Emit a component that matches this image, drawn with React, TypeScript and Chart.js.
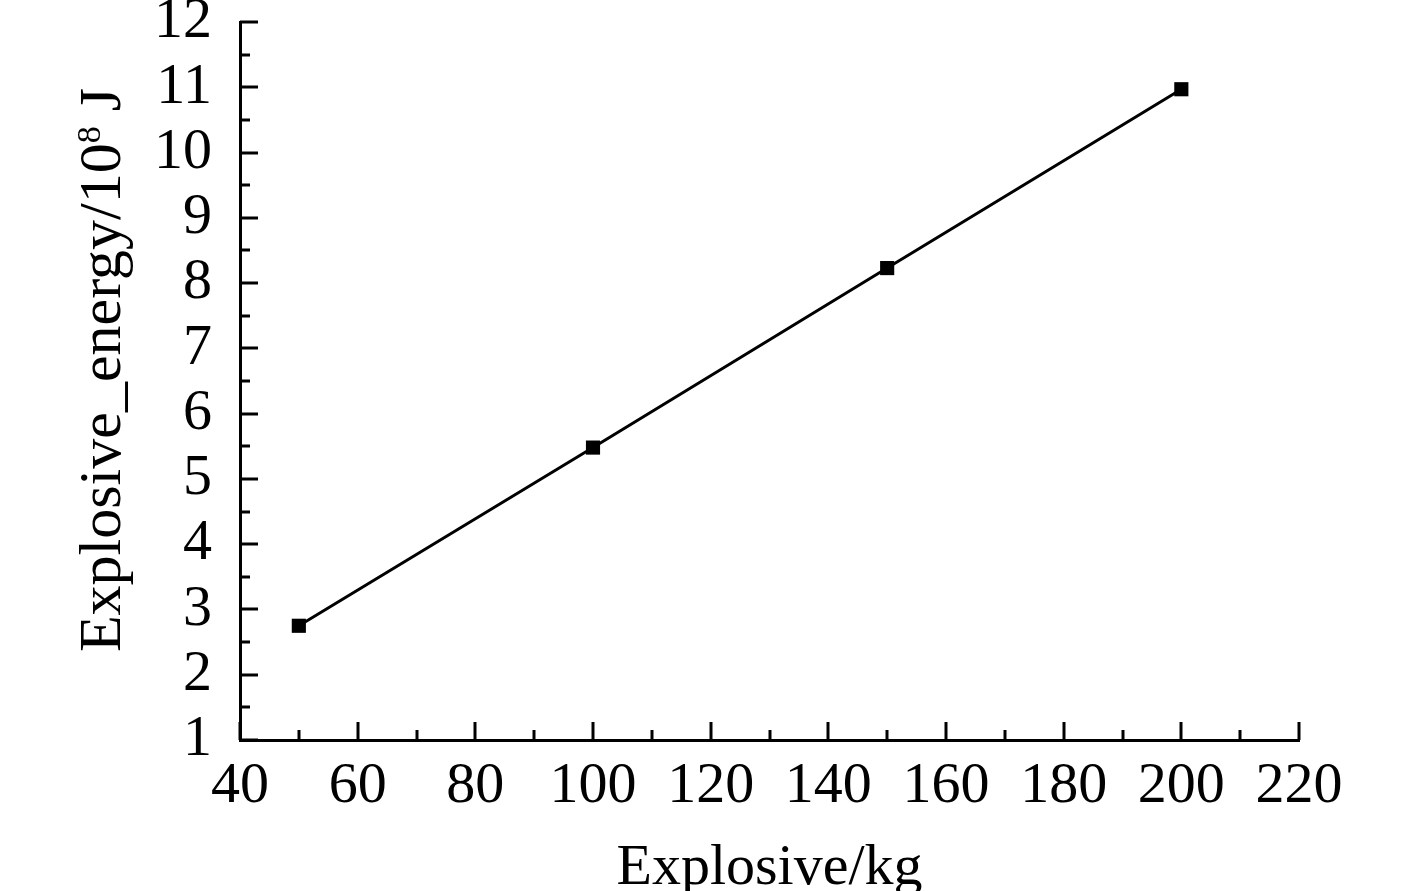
import React, { useEffect, useRef } from "react";
import { Chart, registerables } from "chart.js";

Chart.register(...registerables);

// Data
const explosiveKg = [50, 100, 150, 200];
const explosiveEnergy = [2.75, 5.48, 8.23, 10.97];

// Axis ranges / ticks
const xMin = 40;
const xMax = 220;
const xMajorStep = 20;
const xMinorStep = 10;
const yMin = 1;
const yMax = 12;
const yMajorStep = 1;
const yMinorStep = 0.5;

const xTitle = "Explosive/kg";
const yTitleMain = "Explosive_energy/10";
const yTitleSup = "8";
const yTitleTail = " J";

const FONT = '"Liberation Serif", "Times New Roman", Times, serif';

const inwardTicks = {
  id: "inwardTicks",
  afterDatasetsDraw(chart: any) {
    const { ctx, chartArea, scales } = chart;
    const xs = scales.x;
    const ys = scales.y;
    ctx.save();
    ctx.strokeStyle = "#000";
    ctx.lineWidth = 3;
    ctx.lineCap = "butt";
    for (let v = xMin; v <= xMax + 1e-9; v += xMinorStep) {
      const isMajor = Math.abs((v - xMin) % xMajorStep) < 1e-6;
      const len = isMajor ? 18 : 10;
      const px = Math.round(xs.getPixelForValue(v));
      ctx.beginPath();
      ctx.moveTo(px, chartArea.bottom);
      ctx.lineTo(px, chartArea.bottom - len);
      ctx.stroke();
    }
    for (let v = yMin; v <= yMax + 1e-9; v += yMinorStep) {
      const isMajor = Math.abs((v - yMin) % yMajorStep) < 1e-6;
      const len = isMajor ? 18 : 10;
      const py = Math.round(ys.getPixelForValue(v));
      ctx.beginPath();
      ctx.moveTo(chartArea.left, py);
      ctx.lineTo(chartArea.left + len, py);
      ctx.stroke();
    }
    ctx.restore();
  },
};

const titlesPlugin = {
  id: "titlesPlugin",
  afterDraw(chart: any) {
    const { ctx, chartArea } = chart;
    ctx.save();
    ctx.fillStyle = "#000";
    // X title
    ctx.font = `58px ${FONT}`;
    ctx.textAlign = "center";
    ctx.textBaseline = "alphabetic";
    ctx.fillText(xTitle, (chartArea.left + chartArea.right) / 2, chartArea.bottom + 144);
    ctx.restore();

    // Y title (rotated, with superscript)
    const cy = (chartArea.top + chartArea.bottom) / 2 - 11;
    const cx = 105;
    ctx.save();
    ctx.translate(cx, cy);
    ctx.rotate(-Math.PI / 2);
    ctx.fillStyle = "#000";
    ctx.textBaseline = "alphabetic";
    ctx.textAlign = "left";
    const mainFont = `60px ${FONT}`;
    const supFont = `34px ${FONT}`;
    ctx.font = mainFont;
    const w1 = ctx.measureText(yTitleMain).width;
    const w3 = ctx.measureText(yTitleTail).width;
    ctx.font = supFont;
    const w2 = ctx.measureText(yTitleSup).width;
    const total = w1 + w2 + w3;
    let x = -total / 2;
    const base = 15;
    ctx.font = mainFont;
    ctx.fillText(yTitleMain, x, base);
    x += w1;
    ctx.font = supFont;
    ctx.fillText(yTitleSup, x, base - 20);
    x += w2;
    ctx.font = mainFont;
    ctx.fillText(yTitleTail, x, base);
    ctx.restore();
  },
};

export default function App() {
  const canvasRef = useRef<HTMLCanvasElement | null>(null);

  useEffect(() => {
    if (!canvasRef.current) return;
    const chart = new Chart(canvasRef.current, {
      type: "line",
      data: {
        datasets: [
          {
            data: explosiveKg.map((x, i) => ({ x, y: explosiveEnergy[i] })),
            borderColor: "#000",
            backgroundColor: "#000",
            borderWidth: 3,
            pointStyle: "rect",
            pointRadius: 10,
            pointHoverRadius: 10,
            pointBackgroundColor: "#000",
            pointBorderColor: "#000",
            pointBorderWidth: 0,
            tension: 0,
            fill: false,
          },
        ],
      },
      options: {
        animation: false,
        responsive: false,
        devicePixelRatio: 1,
        layout: { padding: { left: 0, top: 22, right: 118, bottom: 0 } },
        plugins: {
          legend: { display: false },
          tooltip: { enabled: false },
          title: { display: false },
        },
        scales: {
          x: {
            type: "linear",
            min: xMin,
            max: xMax,
            grid: { display: false, drawTicks: false },
            border: { display: true, color: "#000", width: 3 },
            ticks: {
              stepSize: xMajorStep,
              color: "#000",
              font: { family: FONT, size: 58 },
              padding: 12,
              maxRotation: 0,
              autoSkip: false,
            },
            title: { display: false },
            afterFit(scale: any) {
              scale.height = 151;
              scale.paddingLeft = 0;
              scale.paddingRight = 0;
            },
          },
          y: {
            type: "linear",
            min: yMin,
            max: yMax,
            grid: { display: false, drawTicks: false },
            border: { display: true, color: "#000", width: 3 },
            ticks: {
              stepSize: yMajorStep,
              color: "#000",
              font: { family: FONT, size: 58 },
              padding: 28,
              autoSkip: false,
            },
            afterFit(scale: any) {
              scale.width = 240;
              scale.paddingTop = 0;
              scale.paddingBottom = 0;
            },
          },
        },
      },
      plugins: [inwardTicks, titlesPlugin],
    } as any);
    return () => chart.destroy();
  }, []);

  return (
    <div style={{ position: "fixed", left: 0, top: 0, width: 1417, height: 891, background: "#fff" }}>
      <canvas ref={canvasRef} width={1417} height={891} />
    </div>
  );
}
